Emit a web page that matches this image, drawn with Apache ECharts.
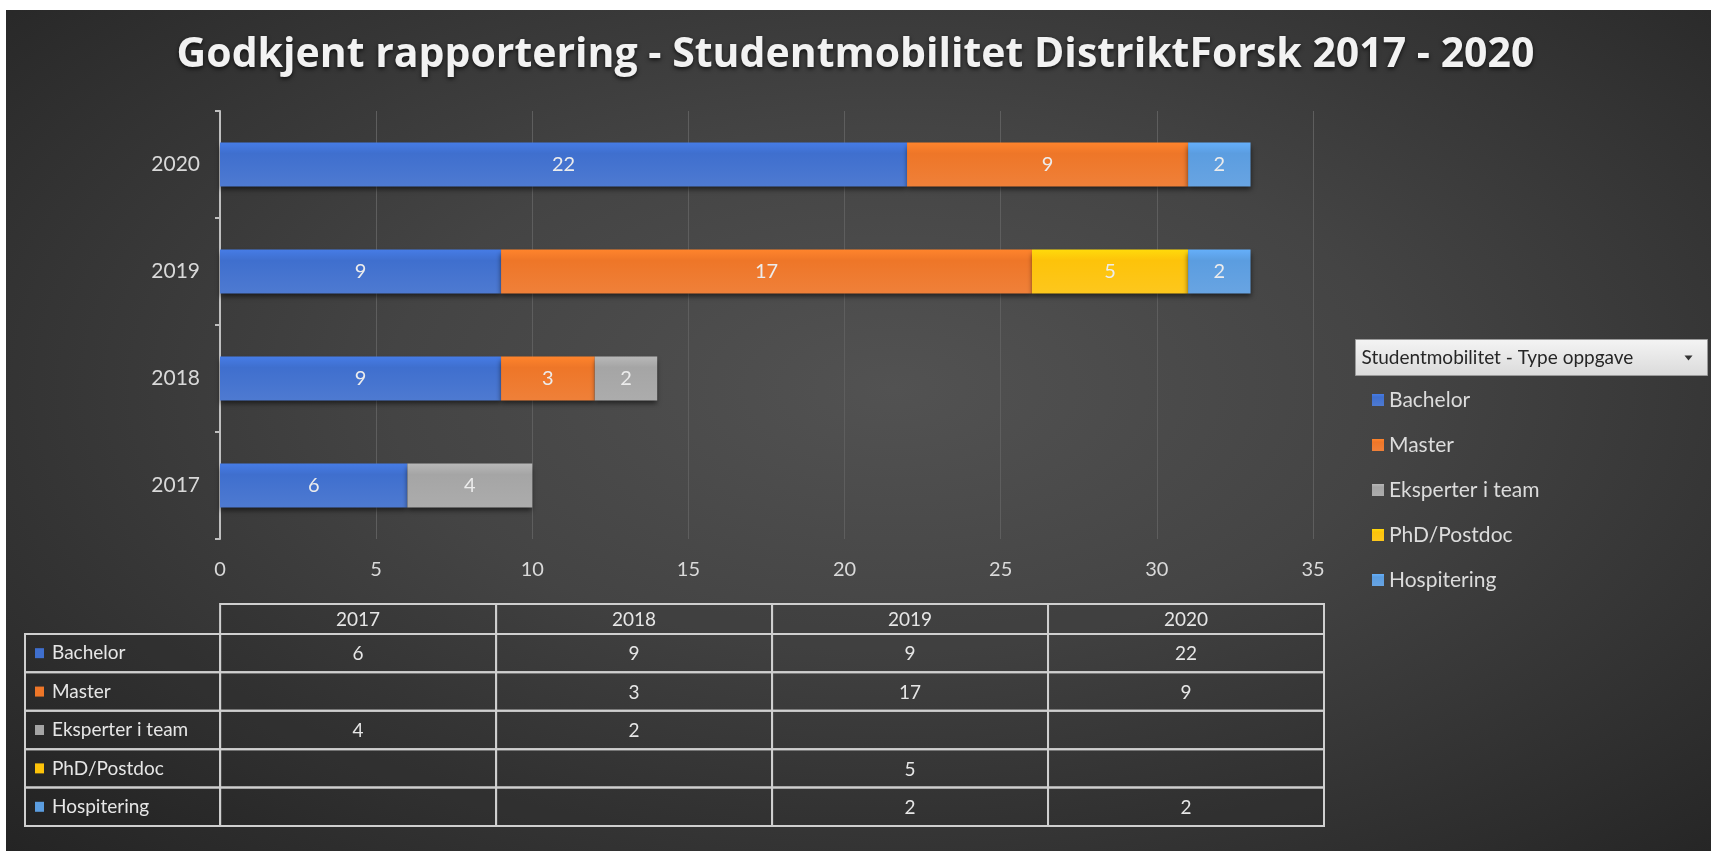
<!DOCTYPE html>
<html>
<head>
<meta charset="utf-8">
<script src="https://cdn.jsdelivr.net/npm/echarts@6/dist/echarts.min.js"></script>
<style>
  html, body { margin: 0; padding: 0; background: #fff; }
  #main {
    width: 1711px; height: 851px;
    background: radial-gradient(ellipse at 52% 45%, #525252 0%, #444 40%, #2c2c2c 85%, #242424 100%) 6px 10px / 1705px 841px no-repeat, #fff;
  }
</style>
</head>
<body>
<div id="main"></div>
<script>
// data
var years = ['2017', '2018', '2019', '2020'];
var typeNames = ['Bachelor', 'Master', 'Eksperter i team', 'PhD/Postdoc', 'Hospitering'];
var bachelor = [6, 9, 9, 22];
var master = [null, 3, 17, 9];
var eksperter = [4, 2, null, null];
var phd = [null, null, 5, null];
var hospitering = [null, null, 2, 2];
var typeColors = ['#3f6fce', '#ee7628', '#a5a5a5', '#fdc30a', '#5b9de0'];

var allValues = [bachelor, master, eksperter, phd, hospitering];

var myChart = echarts.init(document.getElementById('main'));
var FONT = 'Lato';

function barColor(c) {
  return {
    type: 'linear', x: 0, y: 0, x2: 0, y2: 1,
    colorStops: [
      { offset: 0, color: echarts.color.lift(c, -0.12) },
      { offset: 0.25, color: c },
      { offset: 1, color: echarts.color.lift(c, 0.08) }
    ]
  };
}

// stacked bars
var series = [];
for (var i = 0; i < typeNames.length; i++) {
  series.push({
    name: typeNames[i],
    type: 'bar',
    stack: 'total',
    xAxisIndex: 0,
    yAxisIndex: 0,
    barWidth: 44,
    data: allValues[i],
    itemStyle: {
      color: barColor(typeColors[i]),
      shadowColor: 'rgba(0,0,0,0.55)',
      shadowBlur: 5,
      shadowOffsetY: 3
    },
    label: {
      show: true,
      position: 'inside',
      color: '#ececec',
      fontFamily: FONT,
      fontSize: 20
    },
    emphasis: { disabled: true }
  });
}

// data table under the chart (cells in table-grid units)
var LABEL_COL = 0.707;
var HEADER_ROW = 0.78;
var cells = [];
for (var j = 0; j < years.length; j++) {
  cells.push({ x0: j, x1: j + 1, y0: -HEADER_ROW, y1: 0, text: years[j] });
}
for (var r = 0; r < typeNames.length; r++) {
  cells.push({ x0: -LABEL_COL, x1: 0, y0: r, y1: r + 1, text: typeNames[r], color: typeColors[r] });
  for (var j = 0; j < years.length; j++) {
    var v = allValues[r][j];
    cells.push({ x0: j, x1: j + 1, y0: r, y1: r + 1, text: v == null ? '' : String(v) });
  }
}

series.push({
  type: 'custom',
  xAxisIndex: 1,
  yAxisIndex: 1,
  silent: true,
  encode: { x: [0, 2], y: [1, 3] },
  data: cells.map(function (c) { return [c.x0, c.y0, c.x1, c.y1]; }),
  renderItem: function (params, api) {
    var c = cells[params.dataIndex];
    var p0 = api.coord([api.value(0), api.value(1)]);
    var p1 = api.coord([api.value(2), api.value(3)]);
    var x = p0[0], y = p0[1], w = p1[0] - p0[0], h = p1[1] - p0[1];
    var children = [{
      type: 'rect',
      shape: { x: x, y: y, width: w, height: h },
      style: { fill: 'rgba(0,0,0,0.06)', stroke: '#cfcfcf', lineWidth: 2 }
    }];
    if (c.color) {
      children.push({
        type: 'rect',
        shape: { x: x + 10, y: y + h / 2 - 5, width: 9, height: 10 },
        style: { fill: c.color }
      });
      children.push({
        type: 'text',
        style: {
          text: c.text, x: x + 27, y: y + h / 2,
          align: 'left', verticalAlign: 'middle',
          fill: '#e6e6e6', fontFamily: FONT, fontSize: 19
        }
      });
    } else {
      children.push({
        type: 'text',
        style: {
          text: c.text, x: x + w / 2, y: y + h / 2 + 1,
          align: 'center', verticalAlign: 'middle',
          fill: '#e6e6e6', fontFamily: FONT, fontSize: 19
        }
      });
    }
    return { type: 'group', children: children };
  }
});

var option = {
  backgroundColor: 'transparent',
  animation: false,
  title: {
    text: 'Godkjent rapportering - Studentmobilitet DistriktForsk 2017 - 2020',
    left: 'center',
    top: 30,
    textStyle: {
      color: '#f2f2f2',
      fontFamily: 'Open Sans',
      fontWeight: 'bold',
      fontSize: 41,
      textShadowColor: 'rgba(0,0,0,0.7)',
      textShadowBlur: 4,
      textShadowOffsetY: 2
    }
  },
  legend: {
    data: typeNames,
    orient: 'vertical',
    left: 1367,
    top: 383,
    icon: 'rect',
    itemWidth: 12,
    itemHeight: 12,
    itemGap: 21,
    selectedMode: false,
    textStyle: { color: '#dcdcdc', fontFamily: FONT, fontSize: 21, lineHeight: 24 }
  },
  graphic: [{
    type: 'group',
    left: 1355,
    top: 339,
    children: [
      {
        type: 'rect',
        shape: { x: 0, y: 0, width: 352, height: 36 },
        style: {
          fill: { type: 'linear', x: 0, y: 0, x2: 0, y2: 1,
            colorStops: [{ offset: 0, color: '#f4f4f4' }, { offset: 1, color: '#dadada' }] },
          stroke: '#9a9a9a', lineWidth: 1
        }
      },
      {
        type: 'text',
        style: {
          text: 'Studentmobilitet - Type oppgave', x: 6, y: 18,
          verticalAlign: 'middle', fill: '#262626', fontFamily: FONT, fontSize: 19
        }
      },
      {
        type: 'polygon',
        shape: { points: [[329, 16], [337, 16], [333, 21]] },
        style: { fill: '#333' }
      }
    ]
  }],
  grid: [
    { left: 220, top: 111, width: 1093, height: 428 },
    { left: 25, top: 604, width: 1299, height: 222 }
  ],
  xAxis: [
    {
      gridIndex: 0,
      type: 'value',
      min: 0,
      max: 35,
      interval: 5,
      axisLine: { show: false },
      axisTick: { show: false },
      splitLine: { lineStyle: { color: '#5e5e5e', width: 1 } },
      axisLabel: { color: '#d9d9d9', fontFamily: FONT, fontSize: 20, margin: 21 }
    },
    {
      gridIndex: 1,
      type: 'value',
      min: -LABEL_COL,
      max: 4,
      show: false
    }
  ],
  yAxis: [
    {
      gridIndex: 0,
      type: 'category',
      data: years,
      axisLine: { lineStyle: { color: '#bfbfbf', width: 2 } },
      axisTick: { show: true, length: 5, lineStyle: { color: '#bfbfbf', width: 2 } },
      splitLine: { show: false },
      axisLabel: { color: '#d9d9d9', fontFamily: FONT, fontSize: 21, margin: 20 }
    },
    {
      gridIndex: 1,
      type: 'value',
      min: -HEADER_ROW,
      max: 5,
      inverse: true,
      show: false
    }
  ],
  series: series
};

myChart.setOption(option);
window.addEventListener('resize', function () {
  myChart.resize();
});
</script>
</body>
</html>
